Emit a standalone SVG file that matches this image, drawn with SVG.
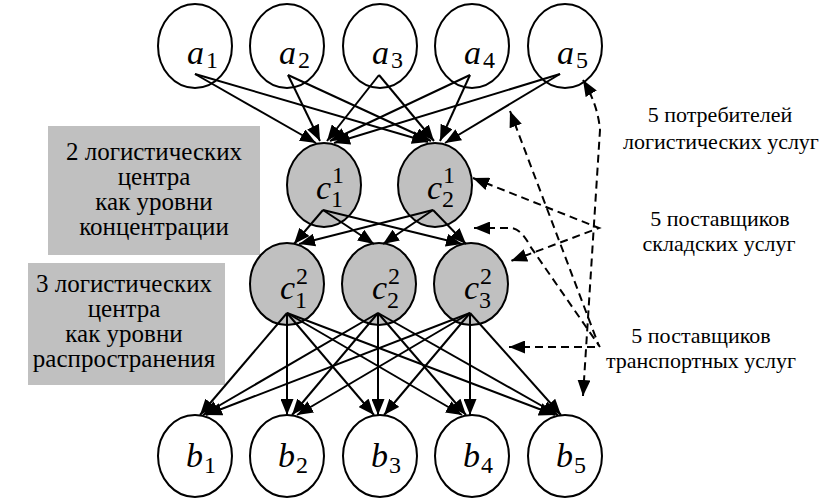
<svg xmlns="http://www.w3.org/2000/svg" width="822" height="500" viewBox="0 0 822 500" font-family="Liberation Serif, serif">
<defs>
<marker id="ah" markerUnits="userSpaceOnUse" markerWidth="16" markerHeight="13" refX="16" refY="6.5" orient="auto-start-reverse" viewBox="0 0 16 13">
<path d="M0,0 L16,6.5 L0,13 z" fill="#000"/>
</marker>
</defs>
<style>
.n{fill:#fff;stroke:#000;stroke-width:2}
.g{fill:#c0c0c0;stroke:#000;stroke-width:2}
.box{fill:#c0c0c0;stroke:none}
.c line{stroke:#000;stroke-width:2;marker-end:url(#ah)}
.d path{fill:none;stroke:#000;stroke-width:2;stroke-dasharray:8 5}
</style>
<rect width="822" height="500" fill="#fff"/>

<g id="label-concentration" font-size="25" text-anchor="middle">
<rect class="box" x="48" y="126" width="212" height="129"/>
<text font-family="Liberation Serif, serif" x="154" y="160">2 логистических</text>
<text font-family="Liberation Serif, serif" x="154" y="185">центра</text>
<text font-family="Liberation Serif, serif" x="154" y="210">как уровни</text>
<text font-family="Liberation Serif, serif" x="154" y="235">концентрации</text>
</g>
<g id="label-distribution" font-size="25" text-anchor="middle">
<rect class="box" x="28" y="263" width="197" height="122"/>
<text font-family="Liberation Serif, serif" x="124" y="292">3 логистических</text>
<text font-family="Liberation Serif, serif" x="124" y="317">центра</text>
<text font-family="Liberation Serif, serif" x="124" y="342">как уровни</text>
<text font-family="Liberation Serif, serif" x="124" y="367">распространения</text>
</g>

<g id="a1"><ellipse class="n" cx="195" cy="46" rx="37" ry="42"/><text font-family="Liberation Serif, serif" font-style="italic" font-size="34" x="187" y="64">a</text><text font-family="Liberation Serif, serif" font-size="24" x="206" y="68">1</text></g>
<g id="a2"><ellipse class="n" cx="287" cy="46" rx="37" ry="42"/><text font-family="Liberation Serif, serif" font-style="italic" font-size="34" x="279" y="64">a</text><text font-family="Liberation Serif, serif" font-size="24" x="298" y="68">2</text></g>
<g id="a3"><ellipse class="n" cx="380" cy="46" rx="37" ry="42"/><text font-family="Liberation Serif, serif" font-style="italic" font-size="34" x="372" y="64">a</text><text font-family="Liberation Serif, serif" font-size="24" x="391" y="68">3</text></g>
<g id="a4"><ellipse class="n" cx="472" cy="46" rx="37" ry="42"/><text font-family="Liberation Serif, serif" font-style="italic" font-size="34" x="464" y="64">a</text><text font-family="Liberation Serif, serif" font-size="24" x="483" y="68">4</text></g>
<g id="a5"><ellipse class="n" cx="565" cy="46" rx="37" ry="42"/><text font-family="Liberation Serif, serif" font-style="italic" font-size="34" x="557" y="64">a</text><text font-family="Liberation Serif, serif" font-size="24" x="576" y="68">5</text></g>

<g id="c11"><ellipse class="g" cx="324" cy="185" rx="37" ry="42"/><text font-family="Liberation Serif, serif" font-style="italic" font-size="34" x="316" y="199">c</text><text font-family="Liberation Serif, serif" font-size="24" x="332" y="183">1</text><text font-family="Liberation Serif, serif" font-size="24" x="331" y="207">1</text></g>
<g id="c12"><ellipse class="g" cx="435" cy="185" rx="37" ry="42"/><text font-family="Liberation Serif, serif" font-style="italic" font-size="34" x="427" y="199">c</text><text font-family="Liberation Serif, serif" font-size="24" x="443" y="183">1</text><text font-family="Liberation Serif, serif" font-size="24" x="442" y="207">2</text></g>

<g id="c21"><ellipse class="g" cx="287" cy="284" rx="37" ry="41"/><text font-family="Liberation Serif, serif" font-style="italic" font-size="34" x="280" y="299">c</text><text font-family="Liberation Serif, serif" font-size="24" x="296" y="284">2</text><text font-family="Liberation Serif, serif" font-size="24" x="295" y="308">1</text></g>
<g id="c22"><ellipse class="g" cx="379" cy="284" rx="37" ry="41"/><text font-family="Liberation Serif, serif" font-style="italic" font-size="34" x="372" y="299">c</text><text font-family="Liberation Serif, serif" font-size="24" x="388" y="284">2</text><text font-family="Liberation Serif, serif" font-size="24" x="387" y="308">2</text></g>
<g id="c23"><ellipse class="g" cx="471" cy="284" rx="37" ry="41"/><text font-family="Liberation Serif, serif" font-style="italic" font-size="34" x="464" y="299">c</text><text font-family="Liberation Serif, serif" font-size="24" x="480" y="284">2</text><text font-family="Liberation Serif, serif" font-size="24" x="479" y="308">3</text></g>

<g id="b1"><ellipse class="n" cx="195" cy="456" rx="37" ry="41"/><text font-family="Liberation Serif, serif" font-style="italic" font-size="34" x="186" y="467">b</text><text font-family="Liberation Serif, serif" font-size="24" x="204" y="473">1</text></g>
<g id="b2"><ellipse class="n" cx="287" cy="456" rx="37" ry="41"/><text font-family="Liberation Serif, serif" font-style="italic" font-size="34" x="278" y="467">b</text><text font-family="Liberation Serif, serif" font-size="24" x="296" y="473">2</text></g>
<g id="b3"><ellipse class="n" cx="380" cy="456" rx="37" ry="41"/><text font-family="Liberation Serif, serif" font-style="italic" font-size="34" x="371" y="467">b</text><text font-family="Liberation Serif, serif" font-size="24" x="389" y="473">3</text></g>
<g id="b4"><ellipse class="n" cx="472" cy="456" rx="37" ry="41"/><text font-family="Liberation Serif, serif" font-style="italic" font-size="34" x="463" y="467">b</text><text font-family="Liberation Serif, serif" font-size="24" x="481" y="473">4</text></g>
<g id="b5"><ellipse class="n" cx="565" cy="456" rx="37" ry="41"/><text font-family="Liberation Serif, serif" font-style="italic" font-size="34" x="556" y="467">b</text><text font-family="Liberation Serif, serif" font-size="24" x="574" y="473">5</text></g>

<g id="connectors" class="c">
<line x1="195" y1="74" x2="316" y2="143"/>
<line x1="195" y1="74" x2="428" y2="142"/>
<line x1="288" y1="75" x2="320" y2="141"/>
<line x1="288" y1="75" x2="431" y2="141"/>
<line x1="379" y1="75" x2="327" y2="141"/>
<line x1="379" y1="75" x2="434" y2="141"/>
<line x1="470" y1="75" x2="330" y2="141"/>
<line x1="470" y1="75" x2="440" y2="141"/>
<line x1="560" y1="74" x2="334" y2="143"/>
<line x1="560" y1="74" x2="445" y2="143"/>
<line x1="323" y1="210" x2="294" y2="244"/>
<line x1="323" y1="210" x2="374" y2="244"/>
<line x1="323" y1="210" x2="462" y2="244"/>
<line x1="433" y1="210" x2="299" y2="244"/>
<line x1="433" y1="210" x2="383" y2="244"/>
<line x1="433" y1="210" x2="466" y2="244"/>
<line x1="287" y1="313" x2="200" y2="415"/>
<line x1="287" y1="313" x2="287" y2="415"/>
<line x1="287" y1="313" x2="374" y2="415"/>
<line x1="287" y1="313" x2="462" y2="415"/>
<line x1="287" y1="313" x2="555" y2="415"/>
<line x1="378" y1="313" x2="203" y2="415"/>
<line x1="378" y1="313" x2="292" y2="415"/>
<line x1="378" y1="313" x2="378" y2="415"/>
<line x1="378" y1="313" x2="466" y2="415"/>
<line x1="378" y1="313" x2="558" y2="415"/>
<line x1="470" y1="313" x2="206" y2="415"/>
<line x1="470" y1="313" x2="297" y2="415"/>
<line x1="470" y1="313" x2="384" y2="415"/>
<line x1="470" y1="313" x2="470" y2="415"/>
<line x1="470" y1="313" x2="561" y2="415"/>
</g>

<g id="dashed-connectors" class="d">
<path d="M583,80 Q598,105 600,130 L583,396" marker-start="url(#ah)" marker-end="url(#ah)"/>
<path d="M473,178 L599,228 L511,261" marker-start="url(#ah)" marker-end="url(#ah)"/>
<path d="M509,347 L600,347" marker-start="url(#ah)"/>
<path d="M510,111 L599,346" marker-start="url(#ah)"/>
<path d="M474,228 L512,228 Q522,230 530,246 L600,347" marker-start="url(#ah)"/>
</g>

<g id="label-consumers" font-size="22" text-anchor="middle">
<text font-family="Liberation Serif, serif" x="720" y="122">5 потребителей</text>
<text font-family="Liberation Serif, serif" x="721" y="149">логистических услуг</text>
</g>
<g id="label-storage" font-size="22" text-anchor="middle">
<text font-family="Liberation Serif, serif" x="720" y="226">5 поставщиков</text>
<text font-family="Liberation Serif, serif" x="719" y="251">складских услуг</text>
</g>
<g id="label-transport" font-size="22" text-anchor="middle">
<text font-family="Liberation Serif, serif" x="701" y="343">5 поставщиков</text>
<text font-family="Liberation Serif, serif" x="701" y="368">транспортных услуг</text>
</g>
</svg>
